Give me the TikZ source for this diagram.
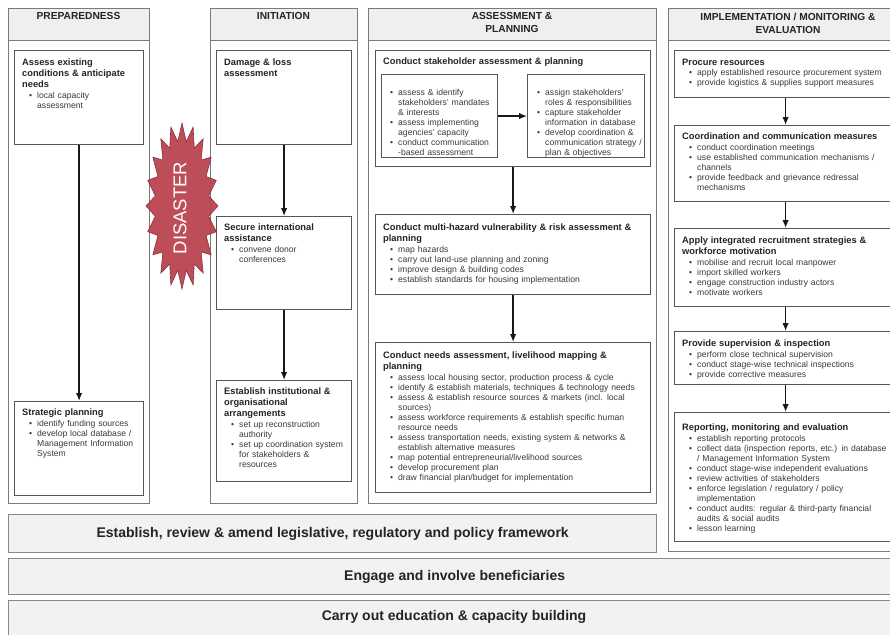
\documentclass[tikz,border=0pt]{standalone}
\usepackage{fontspec}
\setmainfont{Liberation Sans}
\usetikzlibrary{arrows.meta}
\definecolor{colline}{HTML}{7A7A7A}
\definecolor{boxline}{HTML}{555555}
\definecolor{hdrfill}{HTML}{EFEFEF}
\definecolor{bandfill}{HTML}{F1F2F2}
\definecolor{bandline}{HTML}{888888}
\definecolor{ttlcol}{HTML}{242424}
\definecolor{txtcol}{HTML}{3A3A3A}
\definecolor{disred}{HTML}{B8414D}
\newcommand\nl{\hfil\break}
\newcommand\ttl[1]{{\bfseries\color{ttlcol}\fontsize{9.3}{11}\selectfont #1\par}\vspace{0.6pt}}
\newcommand\bl[1]{\par\noindent\hangindent=15pt\hangafter=1\hbox to 15pt{\hspace*{7pt}\textbullet\hfil}#1\par}
\begin{document}
\begin{tikzpicture}[x=1pt,y=-1pt,
  col/.style={draw=colline, line width=1.1pt, fill=white, inner sep=0pt, anchor=north west},
  hdr/.style={draw=colline, line width=1.1pt, fill=hdrfill, inner sep=0pt, anchor=north west},
  box/.style={draw=boxline, line width=1.2pt, fill=white, inner sep=0pt, anchor=north west},
  txt/.style={inner sep=0pt, anchor=north west, font=\fontsize{8.6}{10}\selectfont, text=txtcol},
  hdrtxt/.style={inner sep=0pt, anchor=north, align=center, font=\bfseries\fontsize{10.2}{13}\selectfont, text=ttlcol},
  band/.style={draw=bandline, line width=1.3pt, fill=bandfill, inner sep=0pt, anchor=north west, font=\bfseries\fontsize{14}{16}\selectfont, text=ttlcol},
  arr/.style={-{Latex[length=8pt,width=6.5pt]}, line width=1.4pt, draw=black!90}]
\useasboundingbox (0,0) rectangle (890,634);
\clip (0,0) rectangle (890,634);
\fill[white] (0,0) rectangle (890,634);

% ---------- columns ----------
\node[col, minimum width=141pt, minimum height=495pt] (cprep) at (8,8) {};
\node[hdr, minimum width=141pt, minimum height=32pt] (hprep) at (8,8) {};
\node[hdrtxt] (tprep) at (78.5,12.5) {PREPAREDNESS};

\node[col, minimum width=147pt, minimum height=495pt] (cinit) at (210,8) {};
\node[hdr, minimum width=147pt, minimum height=32pt] (hinit) at (210,8) {};
\node[hdrtxt] (tinit) at (283.5,12.5) {INITIATION};

\node[col, minimum width=288pt, minimum height=495pt] (cass) at (368,8) {};
\node[hdr, minimum width=288pt, minimum height=32pt] (hass) at (368,8) {};
\node[hdrtxt] (tass) at (512,12.5) {ASSESSMENT \&\\PLANNING};

\node[col, minimum width=240pt, minimum height=543pt] (cimp) at (668,8) {};
\node[hdr, minimum width=240pt, minimum height=32pt] (himp) at (668,8) {};
\node[hdrtxt] (timp) at (788,12.5) {IMPLEMENTATION / MONITORING \&\\EVALUATION};

% ---------- preparedness ----------
\node[box, minimum width=129pt, minimum height=94pt] (prepA) at (14,50) {};
\node[txt, text width=120pt] (prepAt) at (22,59) {\ttl{Assess existing\nl conditions \& anticipate\nl needs}\bl{local capacity\nl assessment}};
\node[box, minimum width=129pt, minimum height=94pt] (prepB) at (14,401) {};
\node[txt, text width=120pt] (prepBt) at (22,409) {\ttl{Strategic planning}\bl{identify funding sources}\bl{develop local database /\nl Management Information\nl System}};
\draw[arr] (prepA) -- (prepB);

% ---------- initiation ----------
\node[box, minimum width=135pt, minimum height=94pt] (initA) at (216,50) {};
\node[txt, text width=125pt] (initAt) at (224,59) {\ttl{Damage \& loss\nl assessment}};
\node[box, minimum width=135pt, minimum height=93pt] (initB) at (216,216) {};
\node[txt, text width=125pt] (initBt) at (224,224) {\ttl{Secure international\nl assistance}\bl{convene donor\nl conferences}};
\node[box, minimum width=135pt, minimum height=101pt] (initC) at (216,380) {};
\node[txt, text width=125pt] (initCt) at (224,388) {\ttl{Establish institutional \&\nl organisational\nl arrangements}\bl{set up reconstruction\nl authority}\bl{set up coordination system\nl for stakeholders \&\nl resources}};
\draw[arr] (initA) -- (initB);
\draw[arr] (initB) -- (initC);

% ---------- assessment & planning ----------
\node[box, minimum width=275pt, minimum height=116pt] (stake) at (375,50) {};
\node[txt, text width=260pt] (staket) at (383,58) {\ttl{Conduct stakeholder assessment \& planning}};
\node[box, minimum width=116pt, minimum height=83pt] (stL) at (381,74) {};
\node[txt, text width=114pt] (stLt) at (383,85.5) {\bl{assess \& identify\nl stakeholders' mandates\nl \& interests}\bl{assess implementing\nl agencies' capacity}\bl{conduct communication\nl -based assessment}};
\node[box, minimum width=117pt, minimum height=83pt] (stR) at (527,74) {};
\node[txt, text width=116pt] (stRt) at (530,85.5) {\bl{assign stakeholders'\nl roles \& responsibilities}\bl{capture stakeholder\nl information in database}\bl{develop coordination \&\nl communication strategy /\nl plan \& objectives}};
\draw[arr] (stL) -- (stR);

\node[box, minimum width=275pt, minimum height=80pt] (haz) at (375,214) {};
\node[txt, text width=262pt] (hazt) at (383,223.5) {\ttl{Conduct multi-hazard vulnerability \& risk assessment \&\nl planning}\bl{map hazards}\bl{carry out land-use planning and zoning}\bl{improve design \& building codes}\bl{establish standards for housing implementation}};

\node[box, minimum width=275pt, minimum height=150pt] (need) at (375,342) {};
\node[txt, text width=262pt] (needt) at (383,351.5) {\ttl{Conduct needs assessment, livelihood mapping \&\nl planning}\bl{assess local housing sector, production process \& cycle}\bl{identify \& establish materials, techniques \& technology needs}\bl{assess \& establish resource sources \& markets (incl. local\nl sources)}\bl{assess workforce requirements \& establish specific human\nl resource needs}\bl{assess transportation needs, existing system \& networks \&\nl establish alternative measures}\bl{map potential entrepreneurial/livelihood sources}\bl{develop procurement plan}\bl{draw financial plan/budget for implementation}};
\draw[arr] (stake) -- (haz);
\draw[arr] (haz) -- (need);

% ---------- implementation ----------
\node[box, minimum width=222pt, minimum height=47pt] (proc) at (674,50) {};
\node[txt, text width=205pt] (proct) at (682,58.5) {\ttl{Procure resources}\bl{apply established resource procurement system}\bl{provide logistics \& supplies support measures}};
\node[box, minimum width=222pt, minimum height=76pt] (coord) at (674,125) {};
\node[txt, text width=205pt] (coordt) at (682,133) {\ttl{Coordination and communication measures}\bl{conduct coordination meetings}\bl{use established communication mechanisms /\nl channels}\bl{provide feedback and grievance redressal\nl mechanisms}};
\node[box, minimum width=222pt, minimum height=78pt] (apply) at (674,228) {};
\node[txt, text width=205pt] (applyt) at (682,237) {\ttl{Apply integrated recruitment strategies \&\nl workforce motivation}\bl{mobilise and recruit local manpower}\bl{import skilled workers}\bl{engage construction industry actors}\bl{motivate workers}};
\node[box, minimum width=222pt, minimum height=53pt] (sup) at (674,331) {};
\node[txt, text width=205pt] (supt) at (682,340) {\ttl{Provide supervision \& inspection}\bl{perform close technical supervision}\bl{conduct stage-wise technical inspections}\bl{provide corrective measures}};
\node[box, minimum width=222pt, minimum height=129pt] (rep) at (674,412) {};
\node[txt, text width=205pt] (rept) at (682,424) {\ttl{Reporting, monitoring and evaluation}\bl{establish reporting protocols}\bl{collect data (inspection reports, etc.) in database\nl / Management Information System}\bl{conduct stage-wise independent evaluations}\bl{review activities of stakeholders}\bl{enforce legislation / regulatory / policy\nl implementation}\bl{conduct audits: regular \& third-party financial\nl audits \& social audits}\bl{lesson learning}};
\draw[arr] (proc) -- (coord);
\draw[arr] (coord) -- (apply);
\draw[arr] (apply) -- (sup);
\draw[arr] (sup) -- (rep);

% ---------- bottom bands ----------
\node[band, minimum width=648pt, minimum height=38pt] (band1) at (8,514) {Establish, review \& amend legislative, regulatory and policy framework};
\node[band, minimum width=892pt, minimum height=36pt] (band2) at (8,558) {Engage and involve beneficiaries};
\node[band, minimum width=892pt, minimum height=45pt] (band3) at (8,600) {};
\node[inner sep=0pt, font=\bfseries\fontsize{14}{16}\selectfont, text=ttlcol] (band3t) at (454,617) {Carry out education \& capacity building};

% ---------- disaster burst ----------
\filldraw[fill=disred, draw=disred!75!black, line width=0.6pt, fill opacity=0.93]
  plot[variable=\k, samples at={0,...,39}] ({182+ifthenelse(mod(\k,2)==0,36,27)*cos(\k*9)}, {206+ifthenelse(mod(\k,2)==0,83,65)*sin(\k*9)}) -- cycle;
\node[rotate=90, inner sep=0pt, text=white, font=\fontsize{18.5}{20}\selectfont] (dis) at (180,208) {DISASTER};
\end{tikzpicture}
\end{document}
